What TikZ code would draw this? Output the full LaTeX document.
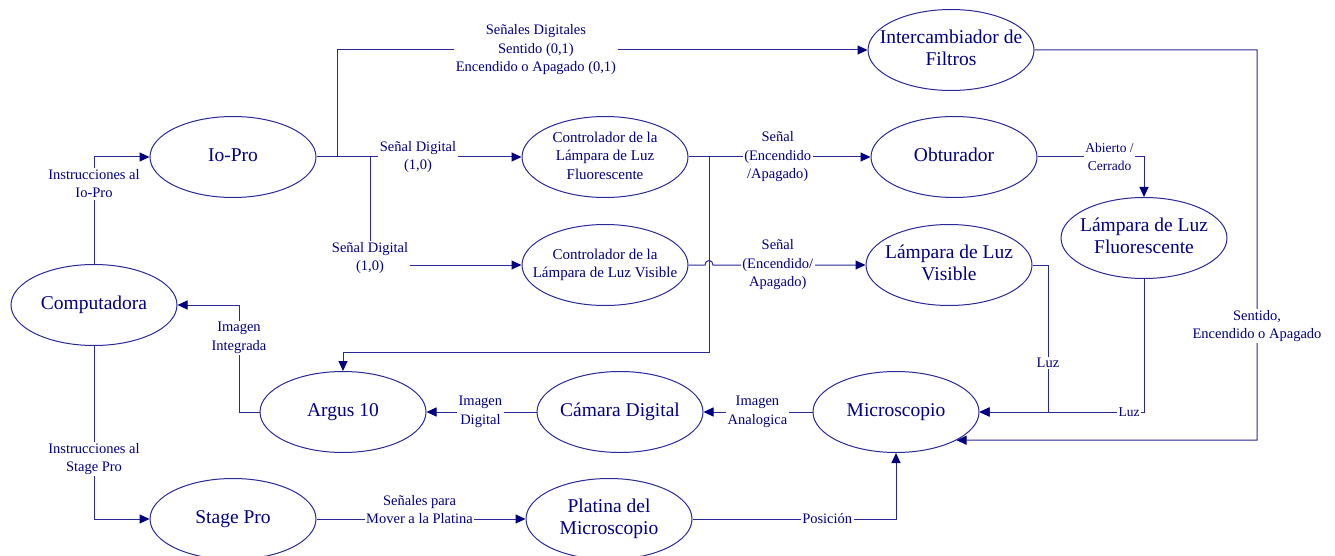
\documentclass[tikz,border=0pt]{standalone}
\usepackage{fontspec}
\setmainfont{Liberation Serif}
\usetikzlibrary{arrows.meta,shapes.geometric}
\definecolor{navy}{RGB}{0,0,128}
\definecolor{lin}{RGB}{40,40,150}
\newcommand{\fitin}[1]{\makebox[0pt]{\begin{tabular}{@{}c@{}}#1\end{tabular}}}
\begin{document}
\begin{tikzpicture}[x=1pt,y=-1pt,
  blob/.style={ellipse, draw=lin, line width=1pt, minimum width=166pt, minimum height=81pt,
    inner sep=0pt, text=navy, font=\fontsize{19.5}{22}\selectfont, align=center},
  blobsmall/.style={blob, font=\fontsize{15}{18.5}\selectfont},
  conn/.style={draw=lin, line width=1pt},
  arr/.style={conn, -{Triangle[length=10pt,width=9pt,color=navy]}},
  lbl/.style={fill=white, text=navy, font=\fontsize{14.5}{18.5}\selectfont, align=center, inner sep=1.5pt},
  lblsm/.style={lbl, font=\fontsize{13.5}{18}\selectfont}
]
\useasboundingbox (0,0) rectangle (1335,556);

% nodes
\node[blob] (iopro) at (233,157) {\fitin{Io-Pro}};
\node[blob] (comp) at (94,305) {\fitin{Computadora}};
\node[blob] (argus) at (343,412) {\fitin{Argus 10}};
\node[blob] (stage) at (233,519) {\fitin{Stage Pro}};
\node[blobsmall] (cfl) at (605,157) {\fitin{Controlador de la\\Lámpara de Luz\\Fluorescente}};
\node[blobsmall] (cvis) at (605,265) {\fitin{Controlador de la\\Lámpara de Luz Visible}};
\node[blob] (cam) at (620,412) {\fitin{Cámara Digital}};
\node[blob] (plat) at (609,519) {\fitin{Platina del\\Microscopio}};
\node[blob] (inter) at (951,50) {\fitin{Intercambiador de\\Filtros}};
\node[blob] (obt) at (954,157) {\fitin{Obturador}};
\node[blob] (lvis) at (949,265) {\fitin{Lámpara de Luz\\Visible}};
\node[blob] (lfl) at (1144,238) {\fitin{Lámpara de Luz\\Fluorescente}};
\node[blob] (micro) at (896,412) {\fitin{Microscopio}};

% connectors
\draw[arr] (comp.north) -- node[lbl, pos=0.75] {Instrucciones al\\Io-Pro} (comp.north |- iopro.west) -- (iopro.west);

\draw[arr] (iopro.east) -- (337,157) |- node[lbl, pos=0.6875] {Señales Digitales\\Sentido (0,1)\\Encendido o Apagado (0,1)} (inter.west);

\draw[arr] (iopro.east) -- node[lbl, pos=0.495] {Señal Digital\\(1,0)} (cfl.west);

\draw[arr] (iopro.east) -- (370,157) -- node[lbl, pos=0.935] {Señal Digital\\(1,0)} (370,265) -- (cvis.west);

\draw[arr] (cfl.east) -- node[lbl, pos=0.49] {Señal\\(Encendido\\/Apagado)} (obt.west);

\draw[arr] (cfl.east) -- (709,157) -- (709,352) -| (argus.north);

\draw[arr] (cvis.east) -- (705,265) .. controls (705,259) and (713,259) .. (713,265)
  -- node[lbl, pos=0.425] {Señal\\(Encendido/\\Apagado)} (lvis.west);

\draw[arr] (obt.east) -| node[lblsm, pos=0.338] {Abierto /\\Cerrado} (lfl.north);

\draw[arr] (lvis.east) -- (1048,265) |- node[lbl, pos=0.333] {Luz} (micro.east);

\draw[arr] (lfl.south) |- node[lblsm, pos=0.545] {Luz} (micro.east);

\draw[arr] (inter.east) -| node[lbl, pos=0.854] {Sentido,\\Encendido o Apagado} (1257,440) -- (micro.-25);

\draw[arr] (micro.west) -- node[lbl, pos=0.505] {Imagen\\Analogica} (cam.east);

\draw[arr] (cam.west) -- node[lbl, pos=0.51] {Imagen\\Digital} (argus.east);

\draw[arr] (argus.west) -- (239,412) |- node[lbl, pos=0.346] {Imagen\\Integrada} (comp.east);

\draw[arr] (comp.south) |- node[lbl, pos=0.327] {Instrucciones al\\Stage Pro} (stage.west);

\draw[arr] (stage.east) -- node[lbl, pos=0.493, yshift=9.5pt] {Señales para\\Mover a la Platina} (plat.west);

\draw[arr] (plat.east) -| node[lbl, pos=0.331] {Posición} (micro.south);
\end{tikzpicture}
\end{document}
